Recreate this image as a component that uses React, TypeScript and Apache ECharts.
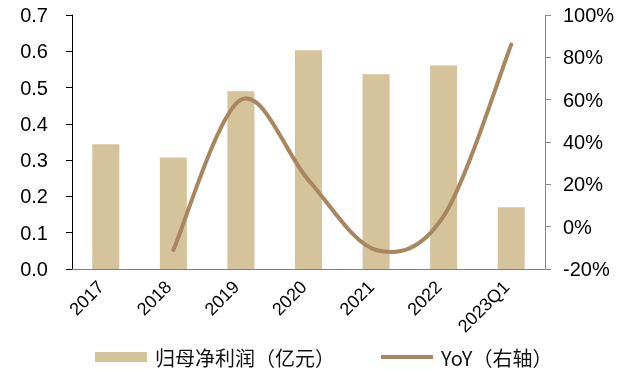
import React, { useEffect, useRef } from "react";
import * as echarts from "echarts";

const categories = ["2017", "2018", "2019", "2020", "2021", "2022", "2023Q1"];
const netProfit = [0.344, 0.307, 0.49, 0.603, 0.537, 0.561, 0.17];
const yoy: (number | null)[] = [null, -11, 60, 22, -11, 5, 86];
const leftTicks = { min: 0, max: 0.7, interval: 0.1 };
const rightTicks = { min: -20, max: 100, interval: 20 };

const BAR = "#d4c39b";
const LINE = "#a8865f";
const BAR_NAME = "归母净利润（亿元）";
const LINE_NAME = "YoY（右轴）";

export default function App() {
  const ref = useRef<HTMLDivElement>(null);
  useEffect(() => {
    if (!ref.current) return;
    const chart = echarts.init(ref.current, undefined, { renderer: "svg" });
    const font = "Arial, 'Liberation Sans', sans-serif";
    const linePts = yoy
      .map((v, i) => (v === null ? null : [i, v]))
      .filter((p) => p !== null) as number[][];

    const renderLine = (params: any, api: any) => {
      if (params.dataIndex !== 0) return null;
      const P = linePts.map((p) => api.coord(p) as number[]);
      const n = P.length;
      let d = `M${P[0][0]},${P[0][1]}`;
      for (let i = 0; i < n - 1; i++) {
        const p0 = P[Math.max(0, i - 1)];
        const p1 = P[i];
        const p2 = P[i + 1];
        const p3 = P[Math.min(n - 1, i + 2)];
        const c1x = p1[0] + (p2[0] - p0[0]) / 6;
        const c1y = p1[1] + (p2[1] - p0[1]) / 6;
        const c2x = p2[0] - (p3[0] - p1[0]) / 6;
        const c2y = p2[1] - (p3[1] - p1[1]) / 6;
        d += ` C${c1x},${c1y} ${c2x},${c2y} ${p2[0]},${p2[1]}`;
      }
      return {
        type: "path",
        shape: { pathData: d },
        style: { stroke: LINE, lineWidth: 4, fill: "none", lineCap: "round", lineJoin: "round" },
      };
    };

    chart.setOption({
      animation: false,
      grid: { left: 72, right: 87, top: 15, bottom: 101 },
      legend: {
        left: 95,
        top: 347,
        padding: 0,
        itemWidth: 52,
        itemHeight: 10,
        itemGap: 46,
        textStyle: {
          fontSize: 20,
          color: "#111",
          fontFamily: "'Noto Sans CJK SC', sans-serif",
          padding: [0, 0, 0, 3],
        },
        data: [
          { name: BAR_NAME, icon: "rect", itemStyle: { color: BAR } },
          { name: LINE_NAME, icon: "path://M0,0L52,0L52,4L0,4Z", itemStyle: { color: LINE } },
        ],
      },
      xAxis: {
        type: "category",
        data: categories,
        axisLine: { lineStyle: { color: "#7f7f7f", width: 1 } },
        axisTick: { inside: true, length: 6, lineStyle: { color: "#333" } },
        axisLabel: {
          rotate: 45,
          fontSize: 18,
          color: "#000",
          fontFamily: font,
          margin: 10,
          padding: [0, 7, 0, 0],
          interval: 0,
        },
      },
      yAxis: [
        {
          type: "value",
          ...leftTicks,
          axisLine: { show: true, lineStyle: { color: "#000" } },
          axisTick: { show: true, length: 6, lineStyle: { color: "#000" } },
          splitLine: { show: false },
          axisLabel: {
            fontSize: 20,
            color: "#000",
            fontFamily: font,
            margin: 24,
            formatter: (v: number) => v.toFixed(1),
          },
        },
        {
          type: "value",
          ...rightTicks,
          axisLine: { show: true, lineStyle: { color: "#8a8a8a" } },
          axisTick: { show: true, length: 6, lineStyle: { color: "#8a8a8a" } },
          splitLine: { show: false },
          axisLabel: {
            fontSize: 20,
            color: "#000",
            fontFamily: font,
            margin: 18,
            formatter: "{value}%",
          },
        },
      ],
      series: [
        {
          name: BAR_NAME,
          type: "bar",
          data: netProfit,
          barWidth: "40%",
          itemStyle: { color: BAR },
          z: 2,
        },
        {
          name: LINE_NAME,
          type: "custom",
          yAxisIndex: 1,
          data: linePts,
          encode: { x: 0, y: 1 },
          itemStyle: { color: LINE },
          renderItem: renderLine,
          clip: false,
          z: 10,
        },
      ],
    });
    return () => chart.dispose();
  }, []);
  return (
    <div
      ref={ref}
      style={{ position: "fixed", left: 0, top: 0, width: 632, height: 370 }}
    />
  );
}
